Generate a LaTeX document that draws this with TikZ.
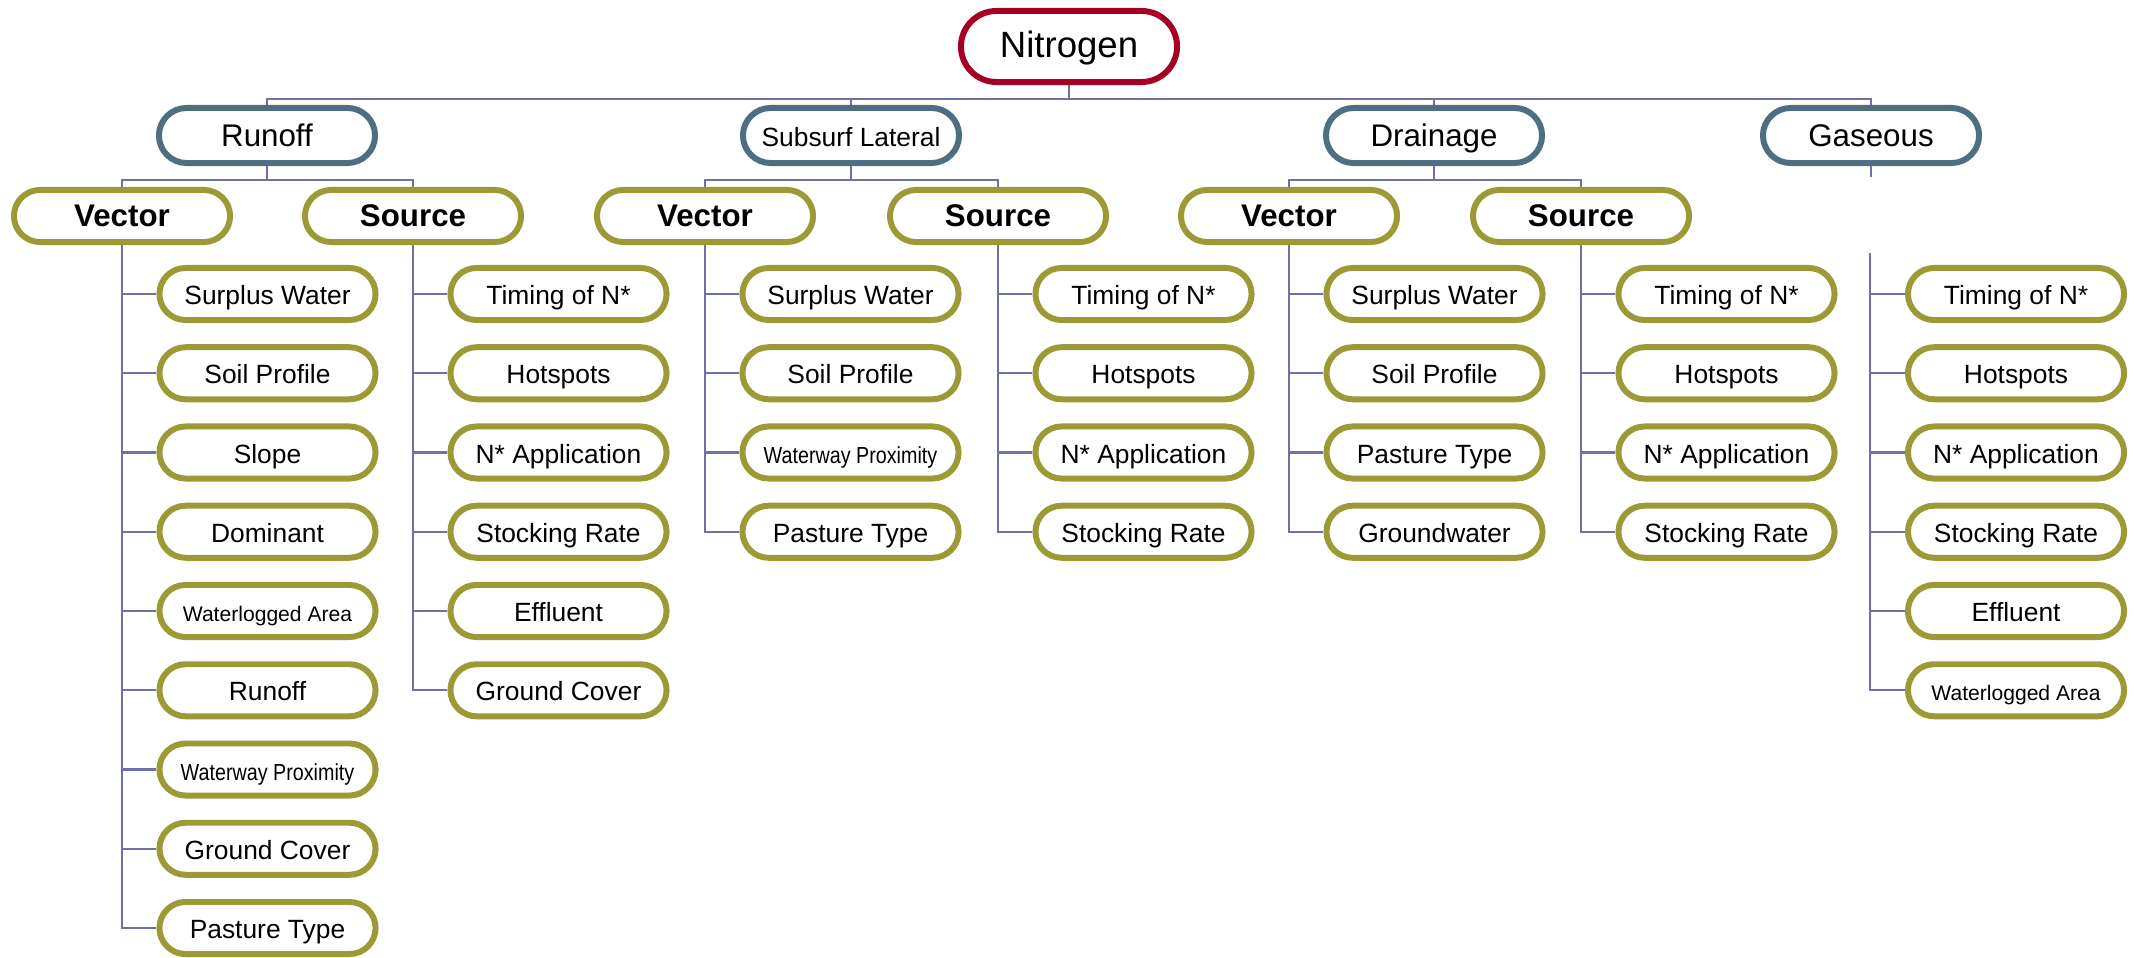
\documentclass[tikz,border=0pt]{standalone}
\usepackage{fontspec}
\setmainfont{Liberation Sans}
\newfontfamily\narrowfont[FakeStretch=0.85]{Liberation Sans}
\usetikzlibrary{shapes.misc,backgrounds}

\definecolor{nitrored}{RGB}{166,0,36}
\definecolor{pathblue}{RGB}{78,110,130}
\definecolor{factorolive}{RGB}{156,154,53}
\definecolor{linkline}{RGB}{112,112,168}

\newcommand{\smalltxt}{\fontsize{6}{7}\selectfont}
\newcommand{\narrowtxt}{\narrowfont\fontsize{6.6}{8}\selectfont}

\tikzset{
	box/.style={rounded rectangle, draw, line width=1.7pt, fill=white, inner sep=0pt,
		minimum width=2.16cm, text height=1.45ex, text depth=0.3ex},
	root/.style={box, draw=nitrored, minimum height=0.71cm, font=\fontsize{10.4}{12}\selectfont},
	pathbox/.style={box, draw=pathblue, minimum height=0.55cm, font=\fontsize{8.9}{10}\selectfont},
	groupbox/.style={box, draw=factorolive, minimum height=0.52cm, font=\fontsize{8.9}{10}\selectfont\bfseries},
	leaf/.style={box, draw=factorolive, minimum height=0.52cm, font=\fontsize{7.5}{9}\selectfont},
	link/.style={draw=linkline, line width=0.6pt},
}

\begin{document}
\begin{tikzpicture}[x=0.01cm, y=-0.01cm]
		\useasboundingbox (0,0) rectangle (2134,958);
		\node[root] (N) at (1069,46.5) {Nitrogen};
		\node[pathbox] (R) at (267,135.5) {Runoff};
		\node[pathbox, font=\fontsize{7.5}{9}\selectfont] (S) at (851,135.5) {Subsurf Lateral};
		\node[pathbox] (D) at (1434,135.5) {Drainage};
		\node[pathbox] (G) at (1871,135.5) {Gaseous};
		\node[groupbox] (rv) at (122,216) {Vector};
		\node[groupbox] (rs) at (413,216) {Source};
		\node[groupbox] (sv) at (705,216) {Vector};
		\node[groupbox] (ss) at (998,216) {Source};
		\node[groupbox] (dv) at (1289,216) {Vector};
		\node[groupbox] (ds) at (1581,216) {Source};
		\coordinate (gt) at (1870,253);
		% Runoff
		\foreach \t [count=\i] in {Surplus Water, Soil Profile, Slope, Dominant,
			{\smalltxt Waterlogged Area}, Runoff, {\narrowtxt Waterway Proximity},
			Ground Cover, Pasture Type}
			\node[leaf] (rv\i) at (267.5,{294+79.25*(\i-1)}) {\t};
		\foreach \t [count=\i] in {Timing of N*, Hotspots, N* Application,
			Stocking Rate, Effluent, Ground Cover}
			\node[leaf] (rs\i) at (558.5,{294+79.25*(\i-1)}) {\t};
		% Subsurf Lateral
		\foreach \t [count=\i] in {Surplus Water, Soil Profile,
			{\narrowtxt Waterway Proximity}, Pasture Type}
			\node[leaf] (sv\i) at (850.5,{294+79.25*(\i-1)}) {\t};
		\foreach \t [count=\i] in {Timing of N*, Hotspots, N* Application, Stocking Rate}
			\node[leaf] (ss\i) at (1143.5,{294+79.25*(\i-1)}) {\t};
		% Drainage
		\foreach \t [count=\i] in {Surplus Water, Soil Profile, Pasture Type, Groundwater}
			\node[leaf] (dv\i) at (1434.5,{294+79.25*(\i-1)}) {\t};
		\foreach \t [count=\i] in {Timing of N*, Hotspots, N* Application, Stocking Rate}
			\node[leaf] (ds\i) at (1726.5,{294+79.25*(\i-1)}) {\t};
		% Gaseous
		\foreach \t [count=\i] in {Timing of N*, Hotspots, N* Application,
			Stocking Rate, Effluent, {\smalltxt Waterlogged Area}}
			\node[leaf] (g\i) at (2016,{294+79.25*(\i-1)}) {\t};
		\begin{scope}[on background layer]
			\draw[link] (N.south) -- ++(0,14) coordinate (nb);
			\foreach \c in {R,S,D,G}
				\draw[link] (nb) -| (\c.north);
			\foreach \p/\a/\b in {R/rv/rs, S/sv/ss, D/dv/ds} {
				\draw[link] (\p.south) -- ++(0,14) coordinate (\p b);
				\draw[link] (\p b) -| (\a.north);
				\draw[link] (\p b) -| (\b.north);
			}
			\draw[link] (G.south) -- ++(0,11);
			\foreach \p/\n in {rv/9, rs/6, sv/4, ss/4, dv/4, ds/4}
				\foreach \i in {1,...,\n}
					\draw[link] (\p.south) |- (\p\i.west);
			\foreach \i in {1,...,6}
				\draw[link] (gt) |- (g\i.west);
		\end{scope}
	\end{tikzpicture}
\end{document}
